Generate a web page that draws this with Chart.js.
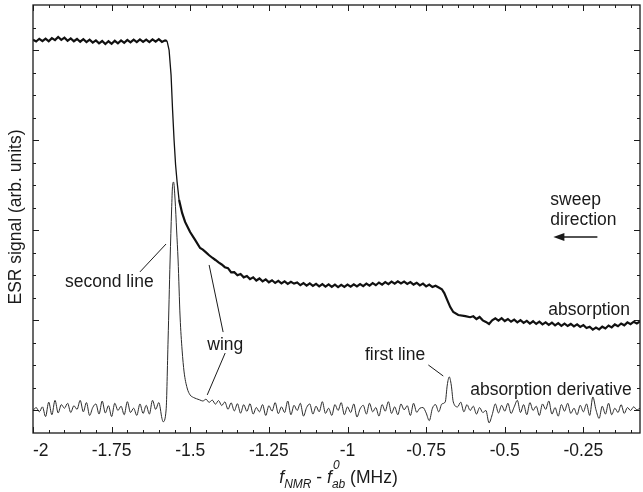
<!DOCTYPE html>
<html><head><meta charset="utf-8">
<script src="https://cdn.jsdelivr.net/npm/chart.js@4.4.1/dist/chart.umd.min.js"></script>
<style>html,body{margin:0;padding:0;background:#fff;}canvas{display:block;}</style>
</head><body>
<canvas id="c" width="643" height="492"></canvas>
<script>
// ---- axis ticks ----
const xTickValues = [-2, -1.75, -1.5, -1.25, -1, -0.75, -0.5, -0.25];
const xTickLabels = ['-2', '-1.75', '-1.5', '-1.25', '-1', '-0.75', '-0.5', '-0.25'];
const yMajorTicks = [1, 5, 9, 13, 17];
const yMinorTicks = [2, 3, 4, 6, 7, 8, 10, 11, 12, 14, 15, 16, 18];

// ---- absorption (thick trace) ----
const absX = [
 -2.00,-1.99,-1.98,-1.97,-1.96,-1.95,-1.94,-1.93,-1.92,-1.91,
 -1.90,-1.89,-1.88,-1.87,-1.86,-1.85,-1.84,-1.83,-1.82,-1.81,
 -1.80,-1.79,-1.78,-1.77,-1.76,-1.75,-1.74,-1.73,-1.72,-1.71,
 -1.70,-1.69,-1.68,-1.67,-1.66,-1.65,-1.64,-1.63,-1.62,-1.61,
 -1.60,-1.59,-1.58,
 -1.5737,-1.5673,-1.5610,-1.5562,-1.5514,-1.5466,-1.5418,-1.5355,-1.5259,-1.5164,
 -1.5005,-1.4846,-1.4687,
 -1.46,-1.45,-1.44,-1.43,-1.42,-1.41,-1.40,-1.39,-1.38,-1.37,
 -1.36,-1.35,-1.34,-1.33,-1.32,-1.31,-1.30,-1.29,-1.28,-1.27,
 -1.26,-1.25,-1.24,-1.23,-1.22,-1.21,-1.20,-1.19,-1.18,
 -1.17,-1.16,-1.15,-1.14,-1.13,-1.12,-1.11,-1.10,-1.09,-1.08,
 -1.07,-1.06,-1.05,-1.04,-1.03,-1.02,-1.01,-1.00,-0.99,-0.98,
 -0.97,-0.96,-0.95,-0.94,-0.93,-0.92,-0.91,-0.90,-0.89,-0.88,
 -0.87,-0.86,-0.85,-0.84,-0.83,-0.82,-0.81,-0.80,-0.79,-0.78,
 -0.77,-0.76,-0.75,-0.74,-0.73,-0.72,-0.71,
 -0.700,-0.6923,-0.6828,-0.6733,-0.6637,-0.6478,-0.6255,
 -0.61,-0.60,-0.59,-0.58,-0.57,-0.56,-0.55,-0.54,-0.53,-0.52,
 -0.51,-0.50,-0.49,-0.48,-0.47,-0.46,-0.45,-0.44,-0.43,-0.42,
 -0.41,-0.40,-0.39,-0.38,-0.37,-0.36,-0.35,-0.34,-0.33,-0.32,
 -0.31,-0.30,-0.29,-0.28,-0.27,-0.26,-0.25,-0.24,-0.23,-0.22,
 -0.21,-0.20,-0.19,-0.18,-0.17,-0.16,-0.15,-0.14,-0.13,-0.12,
 -0.11,-0.10,-0.09,-0.08,-0.07
];
const absY = [
 17.46,17.38,17.50,17.40,17.51,17.39,17.53,17.44,17.58,17.45,
 17.55,17.41,17.52,17.39,17.49,17.37,17.48,17.35,17.46,17.33,
 17.43,17.30,17.40,17.27,17.39,17.28,17.41,17.30,17.43,17.32,
 17.45,17.34,17.46,17.35,17.47,17.36,17.46,17.35,17.47,17.37,
 17.48,17.36,17.43,
 17.40,17.00,15.89,14.34,13.00,11.90,11.14,10.34,9.77,9.37,
 8.92,8.57,8.21,
 8.14,8.02,7.89,7.78,7.68,7.57,7.48,7.36,7.32,7.13,
 7.14,7.00,7.06,6.91,6.97,6.83,6.91,6.77,6.86,6.73,
 6.82,6.69,6.78,6.66,6.75,6.64,6.73,6.62,6.71,
 6.63,6.68,6.56,6.65,6.54,6.64,6.53,6.62,6.51,6.61,
 6.50,6.60,6.49,6.59,6.48,6.58,6.49,6.59,6.50,6.60,
 6.51,6.61,6.52,6.63,6.54,6.65,6.56,6.68,6.59,6.70,
 6.61,6.72,6.63,6.73,6.64,6.72,6.62,6.70,6.59,6.67,
 6.55,6.63,6.51,6.59,6.48,6.54,6.46,
 6.38,6.21,5.90,5.59,5.37,5.24,5.19,
 5.14,5.18,5.06,5.15,5.00,4.93,4.84,5.00,5.09,4.99,
 5.10,4.97,5.06,4.94,5.03,4.91,5.01,4.89,4.98,4.86,
 4.96,4.84,4.94,4.82,4.91,4.80,4.90,4.78,4.88,4.76,
 4.86,4.75,4.84,4.73,4.82,4.71,4.79,4.66,4.72,4.59,
 4.68,4.60,4.72,4.64,4.77,4.69,4.82,4.74,4.86,4.78,
 4.91,4.83,4.94,4.86,4.95
];

// ---- absorption derivative (thin trace) ----
const derX = [
 -2.00,-1.99,-1.98,-1.97,-1.96,-1.95,-1.94,-1.93,-1.92,-1.91,
 -1.90,-1.89,-1.88,-1.87,-1.86,-1.85,-1.84,-1.83,-1.82,-1.81,
 -1.80,-1.79,-1.78,-1.77,-1.76,-1.75,-1.74,-1.73,-1.72,-1.71,
 -1.70,-1.69,-1.68,-1.67,-1.66,-1.65,-1.64,-1.63,-1.62,-1.61,
 -1.60,-1.59,
 -1.5864,-1.5768,-1.5705,-1.5641,-1.5593,-1.5562,-1.5530,-1.5482,-1.5434,-1.5387,
 -1.5323,-1.5259,-1.5196,-1.5100,-1.5005,
 -1.49,-1.48,-1.47,-1.46,-1.45,-1.44,-1.43,-1.42,-1.41,-1.40,
 -1.39,-1.38,-1.37,-1.36,-1.35,-1.34,-1.33,-1.32,-1.31,-1.30,
 -1.29,-1.28,-1.27,-1.26,-1.25,-1.24,-1.23,-1.22,-1.21,-1.20,
 -1.19,-1.18,-1.17,-1.16,-1.15,-1.14,-1.13,-1.12,-1.11,-1.10,
 -1.09,-1.08,-1.07,-1.06,-1.05,-1.04,-1.03,-1.02,-1.01,-1.00,
 -0.99,-0.98,-0.97,-0.96,-0.95,-0.94,-0.93,-0.92,-0.91,-0.90,
 -0.89,-0.88,-0.87,-0.86,-0.85,-0.84,-0.83,-0.82,-0.81,-0.80,
 -0.79,-0.78,-0.77,-0.76,-0.75,-0.74,-0.73,-0.72,-0.71,-0.70,
 -0.6892,-0.6828,-0.6765,-0.6701,-0.6637,
 -0.65,-0.64,-0.63,-0.62,-0.61,-0.60,-0.59,-0.58,-0.57,-0.56,
 -0.55,-0.54,-0.53,-0.52,-0.51,-0.50,-0.49,-0.48,-0.47,-0.46,
 -0.45,-0.44,-0.43,-0.42,-0.41,-0.40,-0.39,-0.38,-0.37,-0.36,
 -0.35,-0.34,-0.33,-0.32,-0.31,-0.30,-0.29,-0.28,-0.27,-0.26,
 -0.25,-0.24,-0.23,-0.22,-0.21,-0.20,-0.19,-0.18,-0.17,-0.16,
 -0.15,-0.14,-0.13,-0.12,-0.11,-0.10,-0.09,-0.08,-0.07
];
const derY = [
 1.00,1.13,0.94,1.16,0.73,1.37,0.81,1.45,0.89,1.26,
 1.10,1.32,0.91,1.21,1.05,1.45,0.94,1.35,0.78,1.13,
 1.29,0.84,1.42,0.89,1.21,0.73,1.32,1.00,1.19,0.81,
 1.39,0.91,1.10,0.78,1.29,0.87,1.23,0.84,1.45,1.05,
 1.35,0.65,
 0.50,1.02,4.13,7.68,9.90,11.00,11.14,10.34,9.01,7.68,
 5.15,3.68,2.71,2.00,1.69,
 1.58,1.52,1.47,1.42,1.50,1.36,1.46,1.28,1.44,1.22,
 1.38,1.05,1.34,0.98,1.30,0.88,1.26,0.96,1.30,0.84,
 1.13,0.94,1.26,0.78,1.21,0.97,1.35,0.86,1.16,0.91,
 1.42,0.81,1.23,1.00,1.32,0.75,1.13,1.29,0.84,1.19,
 0.94,1.39,0.87,1.10,0.78,1.26,1.00,1.35,0.81,1.16,
 0.91,1.29,0.71,1.07,1.23,0.84,1.32,0.94,1.13,0.75,
 1.26,0.97,1.39,0.87,1.16,0.81,1.29,1.03,1.21,0.78,
 1.32,0.92,1.10,1.13,0.89,0.55,1.10,1.26,0.94,1.29,
 1.38,2.13,2.49,2.13,1.38,
 1.16,1.37,0.94,1.26,1.00,1.19,0.84,1.13,0.91,1.00,
 0.45,0.81,1.29,0.89,1.23,0.97,1.32,0.87,1.16,1.45,
 0.91,1.26,0.81,1.35,1.00,1.19,0.78,1.29,1.05,1.42,
 0.84,1.13,0.75,1.26,0.97,1.32,0.87,1.10,0.81,1.23,
 0.94,1.29,0.78,1.60,1.03,0.65,1.19,0.84,1.32,0.81,
 1.10,0.91,1.26,0.87,1.13,1.00,1.16,1.03,1.10
];

// ---- annotations (data units) ----
const labelTexts = ['second line', 'wing', 'first line', 'absorption derivative', 'absorption', 'sweep', 'direction'];
const labelX = [-1.898, -1.446, -0.753, -0.610, -0.3614, -0.355, -0.355];
const labelY = [6.70, 3.91, 3.46, 1.91, 5.46, 10.34, 9.45];
const labelAlign = ['left', 'left', 'right', 'left', 'left', 'left', 'left'];
const leaderLines = [
  [[-1.660, 7.15], [-1.577, 8.39]],
  [[-1.440, 7.46], [-1.3955, 4.48]],
  [[-1.389, 3.55], [-1.446, 1.69]],
  [[-0.743, 3.02], [-0.6955, 2.53]]
];
const sweepArrow = [[-0.2055, 8.70], [-0.3455, 8.70]];

const FONT = 'Liberation Sans, Arial, Helvetica, sans-serif';
const INK = '#1a1a1a';

const decorPlugin = {
  id: 'decor',
  afterDatasetsDraw(chart) {
    const { ctx, chartArea: a, scales: { x, y } } = chart;
    ctx.save();
    ctx.strokeStyle = INK;
    ctx.lineWidth = 1.3;
    ctx.strokeRect(a.left, a.top, a.right - a.left, a.bottom - a.top);
    ctx.lineWidth = 1;
    const vtick = (v, len) => {
      const px = Math.round(x.getPixelForValue(v)) + 0.5;
      ctx.beginPath();
      ctx.moveTo(px, a.bottom); ctx.lineTo(px, a.bottom - len);
      ctx.moveTo(px, a.top); ctx.lineTo(px, a.top + len);
      ctx.stroke();
    };
    const htick = (v, len) => {
      const py = Math.round(y.getPixelForValue(v)) + 0.5;
      ctx.beginPath();
      ctx.moveTo(a.left, py); ctx.lineTo(a.left + len, py);
      ctx.moveTo(a.right, py); ctx.lineTo(a.right - len, py);
      ctx.stroke();
    };
    xTickValues.forEach((v) => {
      vtick(v, 6);
      for (let k = 1; k < 5; k++) {
        const m = v + k * 0.05;
        if (m <= x.max + 1e-9) vtick(m, 3);
      }
    });
    yMajorTicks.forEach((v) => htick(v, 6));
    yMinorTicks.forEach((v) => htick(v, 3));

    // annotations
    ctx.fillStyle = INK;
    ctx.font = `17.5px ${FONT}`;
    ctx.textBaseline = 'middle';
    labelTexts.forEach((t, i) => {
      ctx.textAlign = labelAlign[i];
      ctx.fillText(t, x.getPixelForValue(labelX[i]), y.getPixelForValue(labelY[i]));
    });
    ctx.lineWidth = 1;
    leaderLines.forEach(([p, q]) => {
      ctx.beginPath();
      ctx.moveTo(x.getPixelForValue(p[0]), y.getPixelForValue(p[1]));
      ctx.lineTo(x.getPixelForValue(q[0]), y.getPixelForValue(q[1]));
      ctx.stroke();
    });
    const ax0 = x.getPixelForValue(sweepArrow[0][0]), ay = y.getPixelForValue(sweepArrow[0][1]);
    const ax1 = x.getPixelForValue(sweepArrow[1][0]);
    ctx.lineWidth = 1.4;
    ctx.beginPath(); ctx.moveTo(ax0, ay); ctx.lineTo(ax1 + 8, ay); ctx.stroke();
    ctx.beginPath();
    ctx.moveTo(ax1, ay); ctx.lineTo(ax1 + 11, ay - 4); ctx.lineTo(ax1 + 11, ay + 4); ctx.closePath();
    ctx.fill();

    // y title
    ctx.save();
    ctx.translate(21, (a.top + a.bottom) / 2 - 2);
    ctx.rotate(-Math.PI / 2);
    ctx.textAlign = 'center';
    ctx.textBaseline = 'alphabetic';
    ctx.font = `17.5px ${FONT}`;
    ctx.fillText('ESR signal (arb. units)', 0, 0);
    ctx.restore();

    // x title: f_NMR - f_ab^0 (MHz)
    const parts = [
      { t: 'f', f: `italic 17.5px ${FONT}`, dy: 0 },
      { t: 'NMR', f: `italic 12px ${FONT}`, dy: 5 },
      { t: ' - ', f: `17.5px ${FONT}`, dy: 0 },
      { t: 'f', f: `italic 17.5px ${FONT}`, dy: 0 },
      { t: 'ab', f: `italic 12px ${FONT}`, dy: 5, sup: '0' },
      { t: ' (MHz)', f: `17.5px ${FONT}`, dy: 0 }
    ];
    let total = 0;
    parts.forEach((p) => { ctx.font = p.f; p.w = ctx.measureText(p.t).width; total += p.w; });
    let cx = (a.left + a.right) / 2 + 2 - total / 2;
    const base = a.bottom + 50;
    ctx.textAlign = 'left';
    ctx.textBaseline = 'alphabetic';
    parts.forEach((p) => {
      ctx.font = p.f;
      ctx.fillText(p.t, cx, base + p.dy);
      if (p.sup) ctx.fillText(p.sup, cx + 1, base - 14);
      cx += p.w;
    });
    ctx.restore();
  }
};

const absData = absX.map((v, i) => ({ x: v, y: absY[i] }));
const derData = derX.map((v, i) => ({ x: v, y: derY[i] }));

new Chart(document.getElementById('c'), {
  type: 'line',
  data: {
    datasets: [
      {
        label: 'absorption', data: absData, borderColor: '#111', borderWidth: 2.2, pointRadius: 0, tension: 0,
        segment: {
          borderWidth: (c) => {
            const dx = Math.abs(c.p1.parsed.x - c.p0.parsed.x) || 1e-6;
            const dy = Math.abs(c.p1.parsed.y - c.p0.parsed.y);
            return dy / dx > 60 ? 1.3 : 2.2;
          }
        }
      },
      { label: 'absorption derivative', data: derData, borderColor: '#2a2a2a', borderWidth: 1, pointRadius: 0, cubicInterpolationMode: 'monotone' }
    ]
  },
  options: {
    responsive: false,
    devicePixelRatio: 1,
    animation: false,
    layout: { padding: { top: 5, right: 3, left: 0, bottom: 0 } },
    plugins: { legend: { display: false }, tooltip: { enabled: false } },
    scales: {
      x: {
        type: 'linear', min: -2, max: -0.07,
        grid: { display: false, drawTicks: false },
        border: { display: false },
        afterBuildTicks: (s) => { s.ticks = xTickValues.concat([s.max]).map((v) => ({ value: v })); },
        afterFit: (s) => { s.height = 59; s.paddingRight = 0; s.paddingLeft = 0; },
        ticks: {
          autoSkip: false, maxRotation: 0, padding: 8, color: INK, align: 'inner',
          font: { family: FONT, size: 17.5 },
          callback: (v) => { const i = xTickValues.indexOf(v); return i >= 0 ? xTickLabels[i] : ''; }
        }
      },
      y: {
        type: 'linear', min: 0, max: 19,
        grid: { display: false, drawTicks: false },
        border: { display: false },
        ticks: { display: false },
        afterFit: (s) => { s.width = 33; }
      }
    }
  },
  plugins: [decorPlugin]
});
</script>
</body></html>
